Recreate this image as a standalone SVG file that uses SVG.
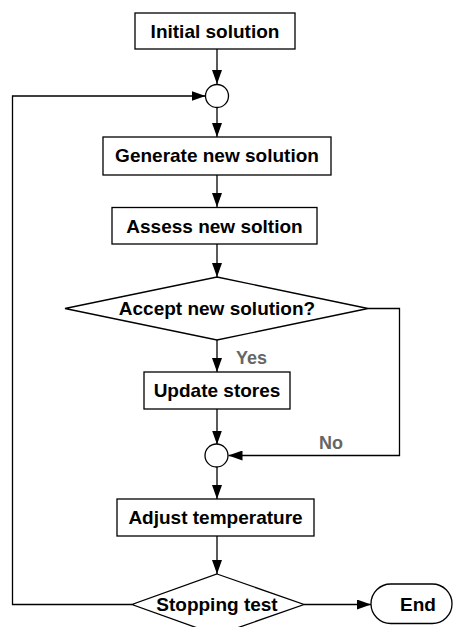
<svg xmlns="http://www.w3.org/2000/svg" width="453" height="627" viewBox="0 0 453 627">
<style>
.box{fill:#fff;stroke:#000;stroke-width:1.3}
.t{font-family:"Liberation Sans",Arial,sans-serif;font-weight:bold;font-size:19px;fill:#000;text-anchor:middle}
.lbl{font-family:"Liberation Sans",Arial,sans-serif;font-weight:bold;font-size:18px;fill:#666}
.c{fill:none;stroke:#000;stroke-width:1.3}
</style>
<defs>
<marker id="ah" markerWidth="14" markerHeight="10" refX="14" refY="5" orient="auto" markerUnits="userSpaceOnUse">
<path d="M0,0 L14,5 L0,10 Z" fill="#000"/>
</marker>
</defs>
<rect width="453" height="627" fill="#fff"/>
<g id="connectors">
<line class="c" x1="217" y1="49" x2="217" y2="84" marker-end="url(#ah)"/>
<line class="c" x1="217" y1="107" x2="217" y2="137" marker-end="url(#ah)"/>
<line class="c" x1="217" y1="175" x2="217" y2="207" marker-end="url(#ah)"/>
<line class="c" x1="217" y1="244" x2="217" y2="277" marker-end="url(#ah)"/>
<line class="c" x1="217" y1="340" x2="217" y2="372" marker-end="url(#ah)"/>
<line class="c" x1="217" y1="409" x2="217" y2="444.5" marker-end="url(#ah)"/>
<polyline class="c" points="368,308.5 399.5,308.5 399.5,455.5 228.5,455.5" marker-end="url(#ah)"/>
<line class="c" x1="217" y1="467" x2="217" y2="499" marker-end="url(#ah)"/>
<line class="c" x1="217" y1="536" x2="217" y2="574" marker-end="url(#ah)"/>
<polyline class="c" points="132,604.5 12.5,604.5 12.5,96 205.5,96" marker-end="url(#ah)"/>
<line class="c" x1="304" y1="604.5" x2="371" y2="604.5" marker-end="url(#ah)"/>
<text class="lbl" x="236" y="364">Yes</text>
<text class="lbl" x="319" y="449">No</text>
</g>
<g id="initial">
<rect class="box" x="135" y="13" width="160" height="36"/>
<text class="t" x="215" y="37.5">Initial solution</text>
</g>
<g id="join1">
<circle class="box" cx="217" cy="96" r="11.5"/>
</g>
<g id="generate">
<rect class="box" x="103" y="137" width="228" height="38"/>
<text class="t" x="217" y="162">Generate new solution</text>
</g>
<g id="assess">
<rect class="box" x="112" y="207.5" width="205" height="36.5"/>
<text class="t" x="214.5" y="232.5">Assess new soltion</text>
</g>
<g id="accept">
<polygon class="box" points="217,277 368,308.5 217,340 65,308.5"/>
<text class="t" x="217" y="315">Accept new solution?</text>
</g>
<g id="update">
<rect class="box" x="144" y="372" width="146" height="37"/>
<text class="t" x="217" y="397">Update stores</text>
</g>
<g id="join2">
<circle class="box" cx="216.5" cy="455.5" r="11.5"/>
</g>
<g id="adjust">
<rect class="box" x="117" y="499" width="197" height="37"/>
<text class="t" x="215.5" y="524">Adjust temperature</text>
</g>
<g id="stopping">
<polygon class="box" points="217,574 304,604.5 217,635 132,604.5"/>
<text class="t" x="217" y="611">Stopping test</text>
</g>
<g id="end">
<rect class="box" x="371" y="584" width="81" height="39.5" rx="19.75" ry="19.75"/>
<text class="t" x="418" y="611">End</text>
</g>
</svg>
